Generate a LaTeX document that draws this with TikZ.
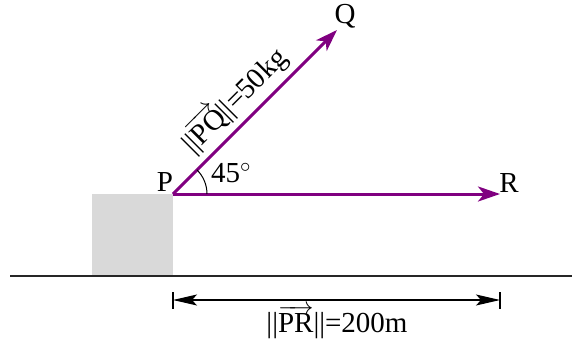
\documentclass[tikz,border=0pt]{standalone}
\usepackage{fontspec}
\setmainfont{Liberation Serif}
\usetikzlibrary{arrows.meta,calc}
\definecolor{vec}{RGB}{128,0,128}
\tikzset{
  vecline/.style={draw=vec, line width=3pt, -{Stealth[length=22pt,width=15pt,inset=6pt]}},
  dimline/.style={draw=black, line width=1.1pt, {Stealth[length=24pt,width=11pt,inset=5pt]}-{Stealth[length=24pt,width=11pt,inset=5pt]}},
  lbl/.style={font=\fontsize{29}{33}\selectfont, inner sep=0pt},
}
\begin{document}
\begin{tikzpicture}[x=1pt,y=-1pt]
\useasboundingbox (0,0) rectangle (572,343);
% block and ground
\fill[black!15] (92,194) rectangle (173,275);
\coordinate (gl) at (10,275.5);
\coordinate (gr) at (572,275.5);
\draw[line width=2pt, black!85] (gl) -- (gr);
% points
\coordinate (P) at (173,194);
\coordinate (Q) at (337,30);
\coordinate (R) at (500,194);
\draw[vecline] (P) -- (Q);
\draw[vecline] (P) -- (R);
% angle
\draw[line width=1pt] (207,194) arc[start angle=0, end angle=-45, radius=34];
% labels
\node[lbl] (pl) at (165,182) {P};
\node[lbl] (ql) at (345,16) {Q};
\node[lbl] (rl) at (509,183) {R};
\node[lbl, anchor=base west] (ang) at (211,182) {45$^\circ$};
\node[lbl, rotate=45, anchor=base] (pq) at (241,107) {||$\overrightarrow{\mathrm{PQ}}$||=50kg};
% dimension
\coordinate (d1) at (173,300);
\coordinate (d2) at (500,300);
\draw[line width=1.1pt] (173,292) -- (173,309);
\draw[line width=1.1pt] (500,292) -- (500,309);
\draw[dimline] (d1) -- (d2);
\node[lbl] (pr) at (337,322) {||$\overrightarrow{\mathrm{PR}}$||=200m};
\end{tikzpicture}
\end{document}
